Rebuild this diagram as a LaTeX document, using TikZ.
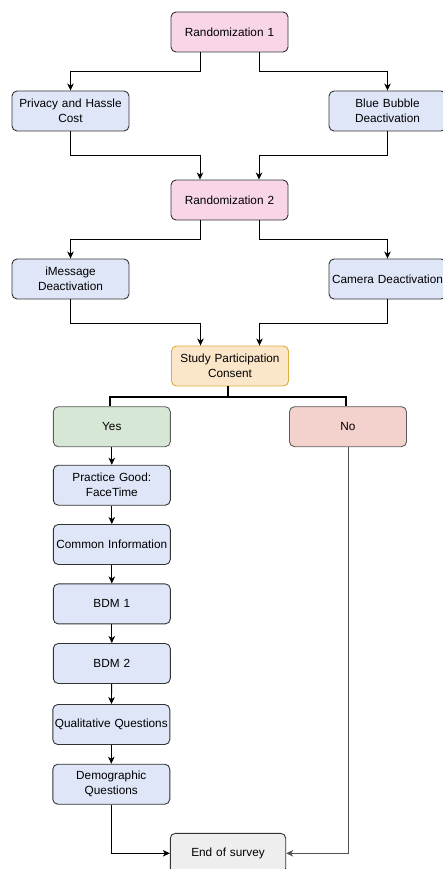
\documentclass[tikz,border=0pt]{standalone}
\usepackage{fontspec}
\setmainfont{Liberation Sans}
\usetikzlibrary{arrows.meta,calc}
\definecolor{pinkf}{HTML}{F8D6E7}
\definecolor{bluef}{HTML}{DFE6F8}
\definecolor{orangef}{HTML}{FCE6CA}
\definecolor{oranged}{HTML}{D9AE3C}
\definecolor{greenf}{HTML}{D7E7D5}
\definecolor{redf}{HTML}{F3D1CD}
\definecolor{greyf}{HTML}{EEEEEE}
\definecolor{strk}{HTML}{333333}
\tikzset{
  x=1pt, y=-1pt,
  boxbase/.style={rectangle, rounded corners=5pt, draw=strk, line width=0.9pt,
    minimum width=117pt, minimum height=40pt, inner sep=0pt, text width=114pt,
    align=center, font=\fontsize{11.8}{15}\selectfont},
  pinkbox/.style={boxbase, fill=pinkf},
  bluebox/.style={boxbase, fill=bluef},
  orangebox/.style={boxbase, fill=orangef, draw=oranged},
  greenbox/.style={boxbase, fill=greenf, draw=strk!80},
  redbox/.style={boxbase, fill=redf, draw=strk!80},
  greybox/.style={boxbase, fill=greyf, minimum width=115.4pt},
  arr/.style={draw=black, line width=0.9pt, -{Stealth[length=7pt,width=6.5pt,inset=2pt]}},
  thickline/.style={draw=black, line width=2pt},
  greyline/.style={draw=strk!85, line width=1pt, -{Stealth[length=7pt,width=6.5pt,inset=2pt]}}
}
\begin{document}
\begin{tikzpicture}
\useasboundingbox (0,0) rectangle (443,869);
\node[pinkbox] (r1) at (229.5,32) {Randomization 1};
\node[bluebox] (phc) at (70.5,111) {Privacy and Hassle\\Cost};
\node[bluebox] (bbd) at (387.5,111) {Blue Bubble\\Deactivation};
\node[pinkbox] (r2) at (229.5,200) {Randomization 2};
\node[bluebox] (imd) at (70.5,279) {iMessage\\Deactivation};
\node[bluebox] (cam) at (387.5,279) {Camera Deactivation};
\node[orangebox] (cons) at (230,366) {Study Participation\\Consent};
\node[greenbox] (yes) at (111.8,426.7) {Yes};
\node[redbox] (no) at (348,426.7) {No};
\node[bluebox] (pg) at (111.8,485.2) {Practice Good:\\FaceTime};
\node[bluebox] (ci) at (111.8,544.5) {Common Information};
\node[bluebox] (b1) at (111.8,603.9) {BDM 1};
\node[bluebox] (b2) at (111.8,663.5) {BDM 2};
\node[bluebox] (qq) at (111.3,724.5) {Qualitative Questions};
\node[bluebox] (dq) at (111.3,784.2) {Demographic\\Questions};
\node[greybox] (end) at (228,853.3) {End of survey};

% Randomization 1
\draw[arr] ([xshift=-29.5pt]r1.south) -- ++(0,19) -| (phc.north);
\draw[arr] ([xshift=29.5pt]r1.south) -- ++(0,19) -| (bbd.north);
\draw[arr] (phc.south) -- ++(0,24) -| ([xshift=-29.5pt]r2.north);
\draw[arr] (bbd.south) -- ++(0,24) -| ([xshift=29.5pt]r2.north);
% Randomization 2
\draw[arr] ([xshift=-29.5pt]r2.south) -- ++(0,19.3) -| (imd.north);
\draw[arr] ([xshift=29.5pt]r2.south) -- ++(0,19.3) -| (cam.north);
\draw[arr] (imd.south) -- ++(0,23.7) -| ([xshift=-29.5pt]cons.north);
\draw[arr] (cam.south) -- ++(0,23.7) -| ([xshift=29.5pt]cons.north);
% Consent split
\draw[thickline] ([xshift=-2pt]cons.south) -- ++(0,10.7) coordinate (j);
\draw[thickline] ([xshift=-2pt]yes.north) |- (j) -| ([xshift=-2.3pt]no.north);
% Yes chain
\draw[arr] (yes) -- (pg);
\draw[arr] (pg) -- (ci);
\draw[arr] (ci) -- (b1);
\draw[arr] (b1) -- (b2);
\draw[arr] (b2) -- (qq);
\draw[arr] (qq) -- (dq);
\draw[arr] (dq.south) |- (end.west);
% No
\draw[greyline] (no.south) |- (end.east);
\end{tikzpicture}
\end{document}
